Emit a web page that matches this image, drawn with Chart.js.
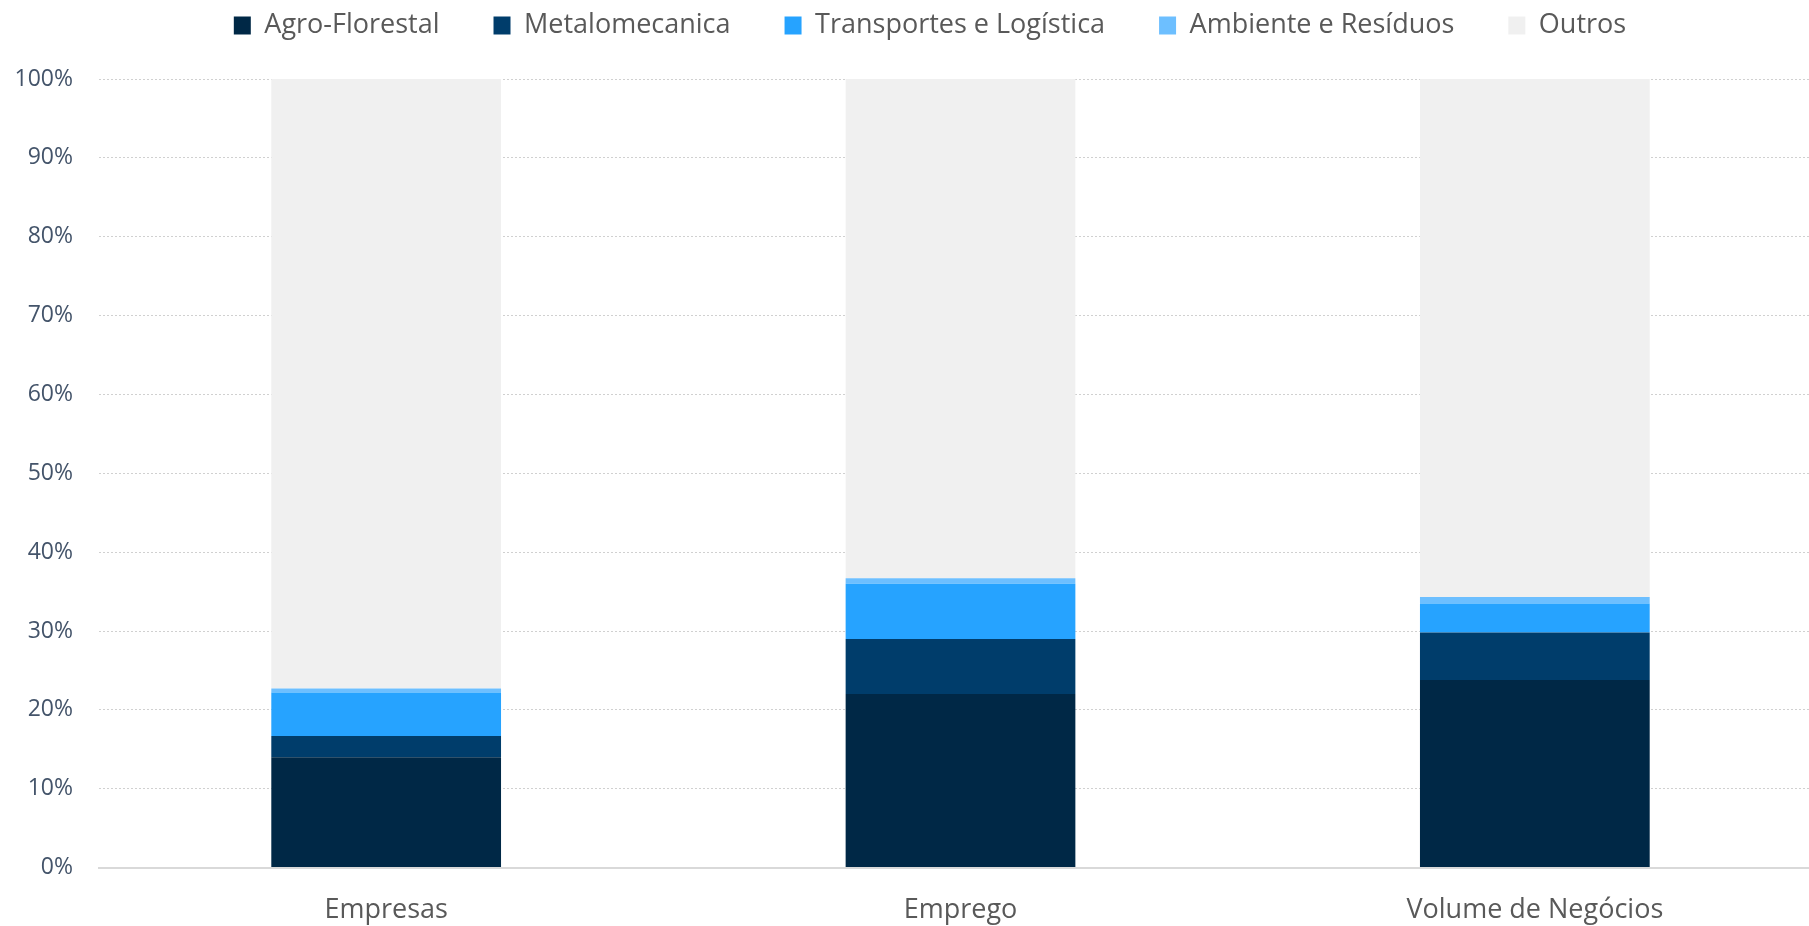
<!DOCTYPE html>
<html>
<head>
<meta charset="utf-8">
<script src="https://cdn.jsdelivr.net/npm/chart.js@4"></script>
<style>
html,body{margin:0;padding:0;background:#fff;overflow:hidden;width:1809px;height:926px;}
#wrap{width:1822px;height:926px;}
</style>
</head>
<body>
<div id="wrap"><canvas id="c" width="1822" height="926"></canvas></div>
<script>
const categories = ["Empresas", "Emprego", "Volume de Negócios"];
const agroFlorestal = [14.0, 22.0, 23.8];
const metalomecanica = [2.7, 7.0, 6.0];
const transportes = [5.5, 7.0, 3.7];
const ambiente = [0.5, 0.7, 0.8];
const outros = [77.3, 63.3, 65.7];
const yTicks = [0, 10, 20, 30, 40, 50, 60, 70, 80, 90, 100];

const seriesNames = ["Agro-Florestal", "Metalomecanica", "Transportes e Logística", "Ambiente e Resíduos", "Outros"];
const seriesData = [agroFlorestal, metalomecanica, transportes, ambiente, outros];
const seriesColors = ["#002846", "#003D6B", "#26A3FF", "#6DBFFF", "#F0F0F0"];

Chart.defaults.font.family = "'Open Sans', 'Noto Sans', sans-serif";

// legend: extra space below the legend row and small horizontal offset
const legendTweak = {
  id: 'legendTweak',
  beforeInit(chart) {
    const lg = chart.legend;
    const origFit = lg.fit;
    lg.fit = function () { origFit.call(this); this.height += 30; };
    const origDraw = lg.draw;
    lg.draw = function () {
      this.left += 13; this.right += 13;
      origDraw.call(this);
      this.left -= 13; this.right -= 13;
    };
  }
};

new Chart(document.getElementById('c'), {
  type: 'bar',
  data: {
    labels: categories,
    datasets: seriesData.map((d, i) => ({
      label: seriesNames[i],
      data: d,
      backgroundColor: seriesColors[i],
      borderWidth: 0,
      barPercentage: 0.4,
      categoryPercentage: 1.0
    }))
  },
  plugins: [legendTweak],
  options: {
    responsive: false,
    animation: false,
    devicePixelRatio: 1,
    layout: { padding: { left: 12, right: 0, top: -42, bottom: 0 } },
    plugins: {
      tooltip: { enabled: false },
      legend: {
        position: 'top',
        labels: {
          boxWidth: 17,
          boxHeight: 18,
          padding: 54,
          color: '#595959',
          font: { size: 27 }
        }
      }
    },
    scales: {
      x: {
        stacked: true,
        afterFit: (s) => { s.height = 58.4; },
        grid: { display: false, drawTicks: false },
        border: { display: true, color: '#D9D9D9', width: 2 },
        ticks: { color: '#595959', font: { size: 27 }, padding: 27 }
      },
      y: {
        stacked: true,
        min: 0,
        max: 100,
        afterFit: (s) => { s.width = 87; },
        afterBuildTicks: (s) => { s.ticks = yTicks.map(v => ({ value: v })); },
        grid: { color: '#D0D0D0', lineWidth: 1, drawTicks: false },
        border: { display: false, dash: [2, 2] },
        ticks: {
          color: '#44546A',
          font: { size: 23 },
          padding: 26,
          callback: (v) => v + '%'
        }
      }
    }
  }
});
</script>
</body>
</html>
